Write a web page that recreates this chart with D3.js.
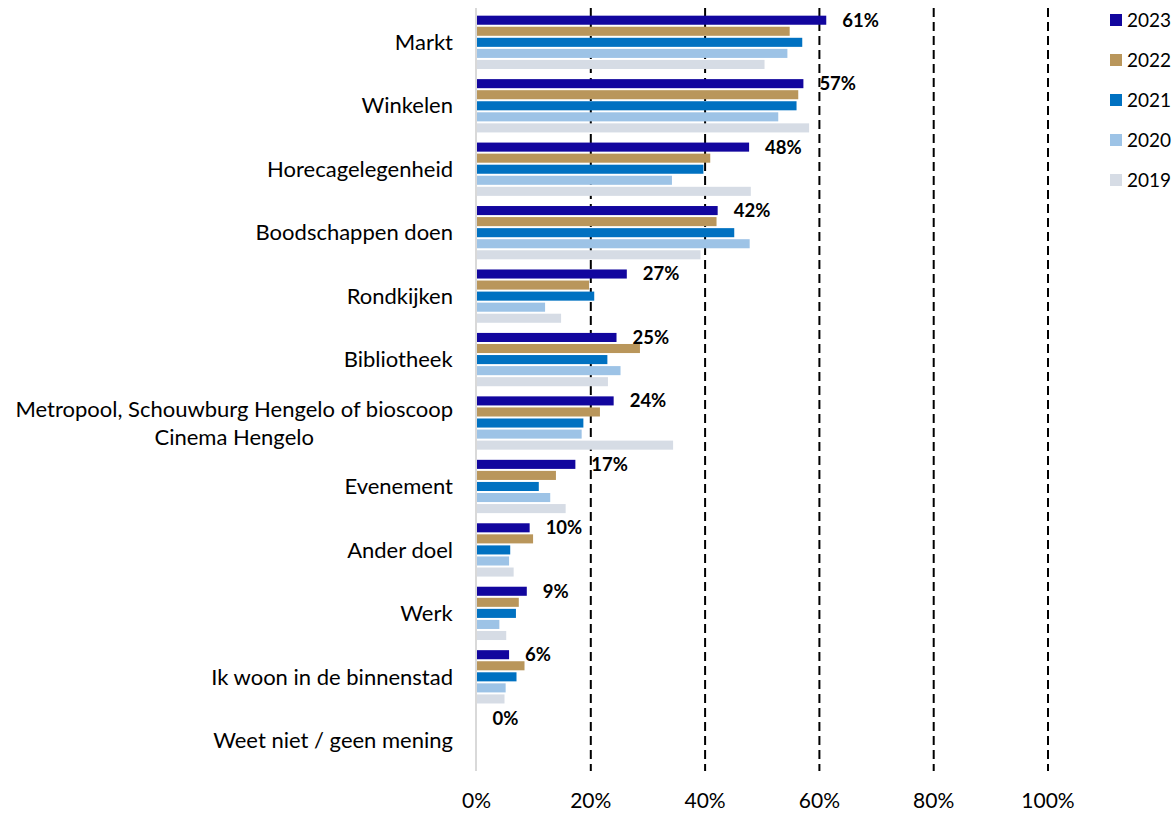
<!DOCTYPE html>
<html lang="nl">
  <head>
    <meta charset="UTF-8" />
    <title>Bezoekdoel binnenstad</title>
    <style>
      body { margin: 0; background: #fff; }
      text { font-family: Lato, "Open Sans", sans-serif; fill: #000; }
    </style>
  </head>
  <body>
    <svg id="chart" width="1175" height="813"></svg>

    <script src="https://cdn.jsdelivr.net/npm/d3@7"></script>
    <script>
      // categories, top to bottom
      const categories = [
        "Markt",
        "Winkelen",
        "Horecagelegenheid",
        "Boodschappen doen",
        "Rondkijken",
        "Bibliotheek",
        "Metropool, Schouwburg Hengelo of bioscoop\nCinema Hengelo",
        "Evenement",
        "Ander doel",
        "Werk",
        "Ik woon in de binnenstad",
        "Weet niet / geen mening"
      ];
      const years = ["2023", "2022", "2021", "2020", "2019"];
      const colors = ["#12069e", "#b9965b", "#0071c1", "#9dc3e6", "#d6dce5"];

      // percentages per year, same order as categories
      const v2023 = [61.2, 57.2, 47.7, 42.2, 26.3, 24.5, 24.0, 17.3, 9.3, 8.8, 5.7, 0];
      const v2022 = [54.8, 56.3, 40.9, 42.0, 19.7, 28.6, 21.6, 13.9, 9.9, 7.4, 8.4, 0];
      const v2021 = [57.0, 56.0, 39.7, 45.1, 20.6, 22.9, 18.7, 10.9, 5.9, 6.9, 7.0, 0];
      const v2020 = [54.4, 52.8, 34.2, 47.8, 12.0, 25.2, 18.4, 12.9, 5.7, 4.0, 5.1, 0];
      const v2019 = [50.4, 58.2, 48.0, 39.2, 14.8, 23.0, 34.4, 15.6, 6.5, 5.2, 4.9, 0];
      const labels2023 = ["61%", "57%", "48%", "42%", "27%", "25%", "24%", "17%", "10%", "9%", "6%", "0%"];
      const ticks = [0, 20, 40, 60, 80, 100];

      const series = [v2023, v2022, v2021, v2020, v2019];

      const svg = d3.select("#chart");

      const x = d3.scaleLinear().domain([0, 100]).range([476.5, 1048]);
      const y = d3.scaleBand()
        .domain(categories)
        .range([10.6, 772])
        .paddingInner(0.16)
        .paddingOuter(0.08);
      const yy = d3.scaleBand()
        .domain(years)
        .range([0, y.bandwidth()])
        .paddingInner(0.18);

      // dashed gridlines
      svg.append("g")
        .selectAll("line")
        .data(ticks.slice(1))
        .join("line")
        .attr("x1", d => x(d))
        .attr("x2", d => x(d))
        .attr("y1", 8)
        .attr("y2", 771)
        .attr("stroke", "#000")
        .attr("stroke-width", 2)
        .attr("stroke-dasharray", "9,5");

      // bars
      const groups = svg.append("g")
        .selectAll("g")
        .data(categories)
        .join("g")
        .attr("transform", d => `translate(0,${y(d)})`);

      groups.selectAll("rect")
        .data((c, ci) => years.map((yr, si) => ({ yr, si, v: series[si][ci] })))
        .join("rect")
        .attr("x", x(0))
        .attr("y", d => yy(d.yr))
        .attr("width", d => x(d.v) - x(0))
        .attr("height", yy.bandwidth())
        .attr("fill", d => colors[d.si]);

      // value labels for 2023
      groups.append("text")
        .attr("x", (c, i) => x(v2023[i]) + 16)
        .attr("y", yy("2023") + yy.bandwidth() / 2)
        .attr("dy", "0.35em")
        .attr("font-size", 18.5)
        .attr("font-weight", "bold")
        .text((c, i) => labels2023[i]);

      // zero axis line
      svg.append("line")
        .attr("x1", x(0) - 0.5)
        .attr("x2", x(0) - 0.5)
        .attr("y1", 8)
        .attr("y2", 771)
        .attr("stroke", "#d9d9d9")
        .attr("stroke-width", 2);

      // category labels
      svg.append("g")
        .selectAll("text")
        .data(categories)
        .join("text")
        .attr("text-anchor", "middle")
        .attr("font-size", 22)
        .each(function (d) {
          const lines = d.split("\n");
          const cy = y(d) + y.bandwidth() / 2;
          const lh = 28;
          d3.select(this)
            .selectAll("tspan")
            .data(lines)
            .join("tspan")
            .attr("x", 0)
            .attr("y", (l, i) => cy + (i - (lines.length - 1) / 2) * lh)
            .attr("dy", "0.35em")
            .text(l => l);
        })
        .each(function () {
          // right align block, lines centered to each other
          const w = this.getBBox().width;
          d3.select(this).attr("transform", `translate(${453 - w / 2},0)`);
        });

      // x tick labels
      svg.append("g")
        .selectAll("text")
        .data(ticks)
        .join("text")
        .attr("x", d => x(d))
        .attr("y", 801)
        .attr("dy", "0.35em")
        .attr("text-anchor", "middle")
        .attr("font-size", 21)
        .text(d => d + "%");

      // legend
      const legend = svg.append("g")
        .selectAll("g")
        .data(years)
        .join("g")
        .attr("transform", (d, i) => `translate(1110,${20 + i * 40})`);
      legend.append("rect")
        .attr("x", 0)
        .attr("y", -6)
        .attr("width", 12)
        .attr("height", 12)
        .attr("fill", (d, i) => colors[i]);
      legend.append("text")
        .attr("x", 17)
        .attr("y", 0)
        .attr("dy", "0.35em")
        .attr("font-size", 19)
        .text(d => d);
    </script>
  </body>
</html>
